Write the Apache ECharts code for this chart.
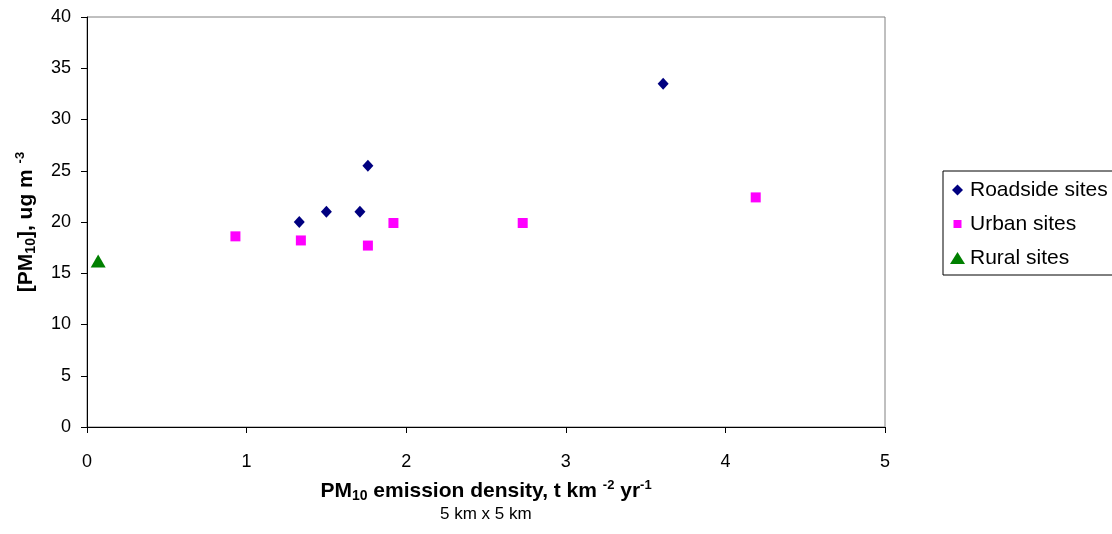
<!DOCTYPE html>
<html><head><meta charset="utf-8">
<script src="https://cdn.jsdelivr.net/npm/echarts@6/dist/echarts.min.js"></script>
<style>html,body{margin:0;padding:0;background:#fff}#c{width:1112px;height:534px}</style>
</head><body><div id="c"></div>
<script>
const roadsideX = [1.33, 1.50, 1.71, 1.76, 3.61];
const roadsideY = [20.0, 21.0, 21.0, 25.5, 33.5];
const urbanX = [0.93, 1.34, 1.76, 1.92, 2.73, 4.19];
const urbanY = [18.6, 18.2, 17.7, 19.9, 19.9, 22.4];
const ruralX = [0.07];
const ruralY = [16.2];
const xTicks = [0, 1, 2, 3, 4, 5];
const yTicks = [0, 5, 10, 15, 20, 25, 30, 35, 40];

const F = 'Arial, "Liberation Sans", sans-serif';
const pair = (xs, ys) => xs.map((x, i) => [x, ys[i]]);
const rich = {
  b: {fontFamily: F, fontSize: 21, fontWeight: 'bold', color: '#000', lineHeight: 24, verticalAlign: 'middle'},
  s: {fontFamily: F, fontSize: 14, fontWeight: 'bold', color: '#000', lineHeight: 14, verticalAlign: 'bottom'},
  p: {fontFamily: F, fontSize: 13, fontWeight: 'bold', color: '#000', lineHeight: 13, verticalAlign: 'top'}
};
const chart = echarts.init(document.getElementById('c'), null, {renderer: 'canvas'});
chart.setOption({
  animation: false,
  backgroundColor: '#fff',
  grid: {left: 87, top: 17, right: 227, bottom: 107, containLabel: false, outerBoundsMode: 'none', show: true, borderColor: '#808080', borderWidth: 1, backgroundColor: 'transparent'},
  xAxis: {
    type: 'value', min: xTicks[0], max: xTicks[xTicks.length - 1], interval: 1,
    splitLine: {show: false},
    axisLine: {show: true, lineStyle: {color: '#000', width: 1}},
    axisTick: {show: true, length: 6, lineStyle: {color: '#000'}},
    axisLabel: {fontFamily: F, fontSize: 18, color: '#000', margin: 26},
    name: '{b|PM}{s|10}{b| emission density, t km }{p|-2}{b| yr}{p|-1}',
    nameLocation: 'middle', nameGap: 52,
    nameTextStyle: {rich: rich}
  },
  yAxis: {
    type: 'value', min: yTicks[0], max: yTicks[yTicks.length - 1], interval: 5,
    splitLine: {show: false},
    axisLine: {show: true, lineStyle: {color: '#000', width: 1}},
    axisTick: {show: true, length: 6, lineStyle: {color: '#000'}},
    axisLabel: {fontFamily: F, fontSize: 18, color: '#000', margin: 16},
    name: '{b|[PM}{s|10}{b|], ug m }{p|-3}',
    nameLocation: 'middle', nameGap: 49, nameRotate: 90,
    nameTextStyle: {rich: rich}
  },
  legend: {
    orient: 'vertical', left: 943, top: 171, width: 168,
    borderColor: '#000', borderWidth: 1, padding: [8, 40, 6, 7],
    itemWidth: 15, itemHeight: 12, itemGap: 12, itemTextGap: 5,
    textStyle: {fontFamily: F, fontSize: 21, color: '#000', lineHeight: 22},
    data: [
      {name: 'Roadside sites', icon: 'path://M0,0M15,12M7.5,0.5L13,6L7.5,11.5L2,6Z'},
      {name: 'Urban sites', icon: 'path://M0,0M15,12M3.5,2H11.5V10H3.5Z'},
      {name: 'Rural sites', icon: 'triangle'}
    ]
  },
  graphic: [{
    type: 'text', left: 486 - 46, top: 506,
    style: {text: '5 km x 5 km', fontFamily: F, fontSize: 17, fill: '#000'}
  }],
  series: [
    {name: 'Roadside sites', type: 'scatter', symbol: 'diamond', symbolSize: [11, 12], itemStyle: {color: '#000080', opacity: 1}, data: pair(roadsideX, roadsideY)},
    {name: 'Urban sites', type: 'scatter', symbol: 'rect', symbolSize: 10, itemStyle: {color: '#FF00FF', opacity: 1}, data: pair(urbanX, urbanY)},
    {name: 'Rural sites', type: 'scatter', symbol: 'triangle', symbolSize: [15, 13], itemStyle: {color: '#008000', opacity: 1}, data: pair(ruralX, ruralY)}
  ]
});
</script></body></html>
